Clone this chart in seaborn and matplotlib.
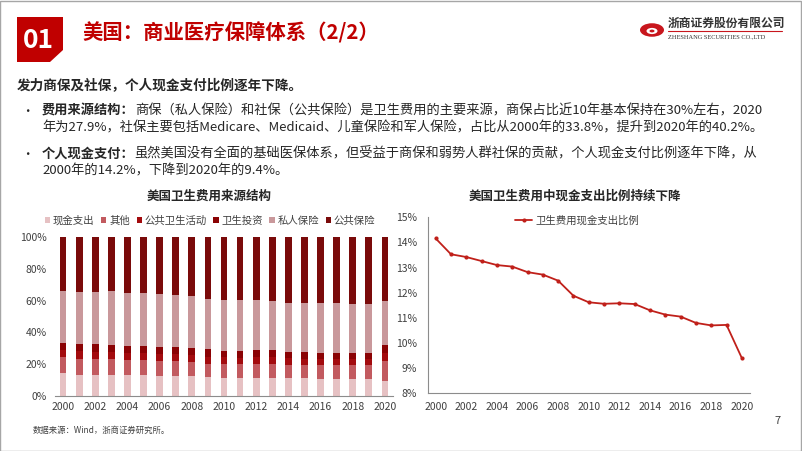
import numpy as np
import pandas as pd
import matplotlib
matplotlib.use("Agg")
import matplotlib.pyplot as plt
import seaborn as sns
from matplotlib.patches import Patch, Polygon, Circle, Rectangle
from matplotlib.lines import Line2D

# ---- data ----
years = list(range(2000, 2021))
year_labels = [str(y) for y in years]

cash = [14.2, 13.5, 13.4, 13.3, 13.1, 13.0, 12.8, 12.7, 12.5, 11.9, 11.6,
        11.6, 11.6, 11.5, 11.3, 11.1, 11.0, 10.8, 10.7, 10.7, 9.4]
other = [10.2, 10.0, 9.7, 9.8, 9.6, 9.7, 9.3, 9.1, 8.7, 8.5, 8.6,
         8.4, 8.6, 8.9, 8.4, 8.4, 8.3, 8.5, 8.6, 8.6, 12.4]
public_health = [4.4, 4.5, 4.5, 4.4, 4.4, 4.2, 4.4, 4.5, 4.5, 4.4, 4.1,
                 4.2, 4.2, 4.2, 4.0, 3.9, 3.9, 3.9, 3.9, 3.9, 5.2]
investment = [4.8, 4.8, 4.8, 4.6, 4.6, 4.4, 4.6, 4.8, 4.8, 4.6, 4.3,
              4.4, 4.4, 4.4, 4.2, 4.1, 4.1, 4.1, 4.1, 4.1, 4.9]
private_ins = [32.6, 32.7, 33.1, 33.7, 33.2, 33.4, 32.8, 32.6, 32.1, 31.7, 31.9,
               31.7, 31.5, 30.7, 30.9, 30.7, 31.1, 31.1, 30.7, 30.7, 27.9]
public_ins = [33.8, 34.5, 34.5, 34.2, 35.1, 35.3, 36.1, 36.3, 37.4, 38.9, 39.5,
              39.7, 39.7, 40.3, 41.2, 41.8, 41.6, 41.6, 42.0, 42.0, 40.2]

source_names = ["现金支出", "其他", "公共卫生活动", "卫生投资", "私人保险", "公共保险"]
source_colors = ["#E6C1C3", "#C25A5F", "#A30B0E", "#8A0204", "#C9989B", "#7A0A0A"]

oop_ratio = [14.16, 13.53, 13.42, 13.26, 13.10, 13.04, 12.82, 12.72, 12.48, 11.88, 11.62,
             11.56, 11.58, 11.55, 11.30, 11.13, 11.05, 10.80, 10.70, 10.72, 9.40]

RED = "#C00000"
TXT = "#262626"
GRAY = "#404040"

W, H = 802, 451
sns.set_theme(style="white")
plt.rcParams["font.family"] = ["Noto Sans CJK SC", "DejaVu Sans"]
plt.rcParams["axes.unicode_minus"] = False

fig = plt.figure(figsize=(W / 100, H / 100), dpi=100)
fig.patch.set_facecolor("white")


def fx(x):
    return x / W


def fy(y):
    return 1 - y / H


def px_axes(x0, y0, x1, y1):
    return fig.add_axes([fx(x0), fy(y1), (x1 - x0) / W, (y1 - y0) / H])


# slide frame
fig.add_artist(Rectangle((0.0005, 0.001), 0.998, 0.997, transform=fig.transFigure,
                         fill=False, edgecolor="#A6A6A6", linewidth=1))

# ---- header ----
box = Polygon([(fx(17), fy(17)), (fx(63), fy(17)), (fx(63), fy(50)),
               (fx(50), fy(62)), (fx(17), fy(62))], closed=True,
              transform=fig.transFigure, facecolor=RED, edgecolor="none")
fig.add_artist(box)
fig.text(fx(38), fy(40), "01", color="white", fontsize=19, fontweight="bold",
         ha="center", va="center")
fig.text(fx(82), fy(33), "美国：商业医疗保障体系（2/2）", color=RED, fontsize=14.7,
         fontweight="bold", ha="left", va="center")

# logo
fig.add_artist(Circle((fx(652), fy(30)), 12 / W, transform=fig.transFigure,
                      facecolor="#C8161D", edgecolor="none"))
fig.add_artist(Circle((fx(652), fy(31)), 5.5 / W, transform=fig.transFigure,
                      facecolor="white", edgecolor="none"))
fig.add_artist(Circle((fx(652), fy(31)), 2.5 / W, transform=fig.transFigure,
                      facecolor="#C8161D", edgecolor="none"))
fig.text(fx(668), fy(23), "浙商证券股份有限公司", color="#333333", fontsize=8.5,
         fontweight="bold", ha="left", va="center")
fig.add_artist(Line2D([fx(668), fx(782)], [fy(30.5), fy(30.5)], transform=fig.transFigure,
                      color="#C8161D", linewidth=0.8))
fig.text(fx(668), fy(36.5), "ZHESHANG SECURITIES CO.,LTD", color="#333333", fontsize=4.6,
         family=["Liberation Serif", "DejaVu Serif"], ha="left", va="center")

# ---- body text ----
renderer = fig.canvas.get_renderer()


def draw_runs(x, y, runs, size=9.5):
    cur = fx(x)
    for text, weight in runs:
        t = fig.text(cur, fy(y), text, fontsize=size, fontweight=weight,
                     color=TXT, ha="left", va="center")
        bb = t.get_window_extent(renderer=renderer)
        cur += bb.width / W


draw_runs(17, 86, [("发力商保及社保，个人现金支付比例逐年下降。", "bold")], size=9.8)
for by in (111, 154):
    fig.text(fx(21), fy(by), "•", fontsize=9, color=TXT, ha="left", va="center")
draw_runs(42, 111, [("费用来源结构：", "bold"),
                    ("商保（私人保险）和社保（公共保险）是卫生费用的主要来源，商保占比近10年基本保持在30%左右，2020", "normal")])
draw_runs(42, 128, [("年为27.9%，社保主要包括Medicare、Medicaid、儿童保险和军人保险，占比从2000年的33.8%，提升到2020年的40.2%。", "normal")])
draw_runs(42, 154, [("个人现金支付：", "bold"),
                    ("虽然美国没有全面的基础医保体系，但受益于商保和弱势人群社保的贡献，个人现金支付比例逐年下降，从", "normal")])
draw_runs(42, 171, [("2000年的14.2%，下降到2020年的9.4%。", "normal")])

# ---- left: stacked share of health spending ----
df = pd.DataFrame({"year": year_labels, "现金支出": cash, "其他": other,
                   "公共卫生活动": public_health, "卫生投资": investment,
                   "私人保险": private_ins, "公共保险": public_ins})
shares = df[source_names].div(df[source_names].sum(axis=1), axis=0) * 100
cum = shares.cumsum(axis=1)

ax1 = px_axes(55, 237, 393, 396)
for name, col in reversed(list(zip(source_names, source_colors))):
    sns.barplot(x=df["year"], y=cum[name], color=col, saturation=1, width=0.42,
                linewidth=0, edgecolor="none", ax=ax1)
ax1.set_xlim(-0.5, len(years) - 0.5)
ax1.set_ylim(0, 100)
ax1.set_yticks(range(0, 101, 20))
ax1.set_yticklabels([f"{v}%" for v in range(0, 101, 20)])
ax1.set_xticks(range(0, len(years), 2))
ax1.set_xticklabels(year_labels[::2])
ax1.set_xticks(np.arange(-0.5, len(years) - 1, 2), minor=True)
ax1.tick_params(axis="x", which="major", length=0, pad=4, labelsize=7.5, labelcolor=GRAY)
ax1.tick_params(axis="x", which="minor", length=3, width=0.8, color="#8C8C8C", direction="out")
ax1.tick_params(axis="y", length=0, pad=6, labelsize=7.5, labelcolor=GRAY)
ax1.set_xlabel("")
ax1.set_ylabel("")
for s in ("top", "right", "left"):
    ax1.spines[s].set_visible(False)
ax1.spines["bottom"].set_color("#8C8C8C")
ax1.spines["bottom"].set_linewidth(0.8)
ax1.grid(False)

fig.text(fx(209), fy(196), "美国卫生费用来源结构", fontsize=9, fontweight="bold",
         color=TXT, ha="center", va="center")
handles = [Patch(facecolor=c, edgecolor="none", label=n) for n, c in zip(source_names, source_colors)]
fig.legend(handles=handles, loc="center", bbox_to_anchor=(fx(210), fy(220.5)), ncol=6,
           frameon=False, fontsize=7.5, handlelength=0.5, handleheight=0.5,
           handletextpad=0.25, columnspacing=0.65, labelcolor=GRAY)

# ---- right: out-of-pocket share line ----
line_df = pd.DataFrame({"pos": np.arange(len(years)), "ratio": oop_ratio})
ax2 = px_axes(428, 217.3, 749.5, 393.3)
sns.lineplot(data=line_df, x="pos", y="ratio", color="#C0201A", linewidth=1.3,
             marker="o", markersize=3, markeredgewidth=0, ax=ax2)
ax2.set_xlim(-0.5, len(years) - 0.5)
ax2.set_ylim(8, 15)
ax2.set_yticks(range(8, 16))
ax2.set_yticklabels([f"{v}%" for v in range(8, 16)])
ax2.set_xticks(range(0, len(years), 2))
ax2.set_xticklabels(year_labels[::2])
ax2.set_xticks(np.arange(-0.5, len(years) - 1, 2), minor=True)
ax2.tick_params(axis="x", which="major", length=0, pad=6, labelsize=7.5, labelcolor=GRAY)
ax2.tick_params(axis="x", which="minor", length=3, width=0.8, color="#8C8C8C", direction="out")
ax2.tick_params(axis="y", length=0, pad=8, labelsize=7.5, labelcolor=GRAY)
ax2.set_xlabel("")
ax2.set_ylabel("")
for s in ("top", "right"):
    ax2.spines[s].set_visible(False)
for s in ("left", "bottom"):
    ax2.spines[s].set_color("#8C8C8C")
    ax2.spines[s].set_linewidth(0.8)
ax2.grid(False)

fig.text(fx(575), fy(196), "美国卫生费用中现金支出比例持续下降", fontsize=9, fontweight="bold",
         color=TXT, ha="center", va="center")
lh = [Line2D([0], [0], color="#C0201A", linewidth=1.3, marker="o", markersize=3,
             markeredgewidth=0, label="卫生费用现金支出比例")]
fig.legend(handles=lh, loc="center", bbox_to_anchor=(fx(577), fy(220.5)), frameon=False,
           fontsize=7.5, handlelength=1.6, handletextpad=0.3, labelcolor=GRAY)

# ---- footer ----
fig.text(fx(33), fy(430), "数据来源：Wind，浙商证券研究所。", fontsize=6, color=GRAY,
         ha="left", va="center")
fig.text(fx(778), fy(421), "7", fontsize=8, color=GRAY, ha="center", va="center")

fig.savefig("out.png", dpi=100)
